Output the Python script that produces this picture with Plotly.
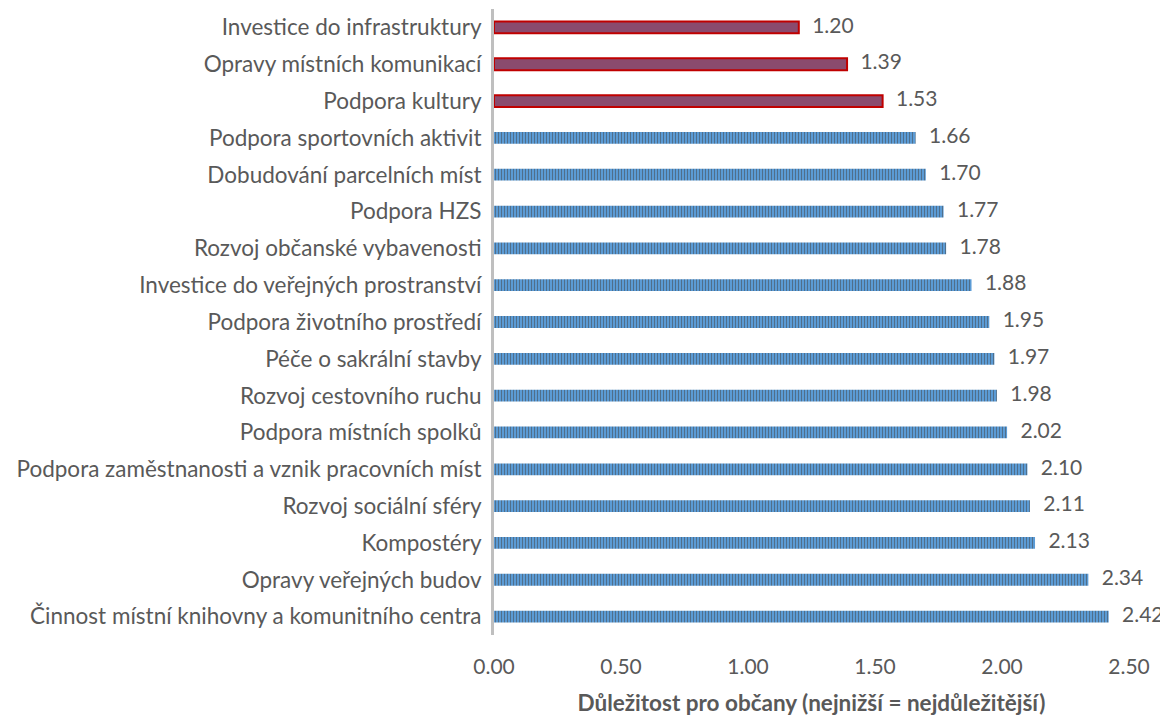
import plotly.graph_objects as go

categories = [
    "Investice do infrastruktury",
    "Opravy místních komunikací",
    "Podpora kultury",
    "Podpora sportovních aktivit",
    "Dobudování parcelních míst",
    "Podpora HZS",
    "Rozvoj občanské vybavenosti",
    "Investice do veřejných prostranství",
    "Podpora životního prostředí",
    "Péče o sakrální stavby",
    "Rozvoj cestovního ruchu",
    "Podpora místních spolků",
    "Podpora zaměstnanosti a vznik pracovních míst",
    "Rozvoj sociální sféry",
    "Kompostéry",
    "Opravy veřejných budov",
    "Činnost místní knihovny a komunitního centra",
]
values = [1.20, 1.39, 1.53, 1.66, 1.70, 1.77, 1.78, 1.88, 1.95, 1.97, 1.98, 2.02, 2.10, 2.11, 2.13, 2.34, 2.42]
top_n = 3

fill_colors = ["#8A4B6E" if i < top_n else "#5B9BD5" for i in range(len(values))]
line_colors = ["#C00000" if i < top_n else "rgba(0,0,0,0)" for i in range(len(values))]
line_widths = [2 if i < top_n else 0 for i in range(len(values))]
pattern_shapes = ["" if i < top_n else "|" for i in range(len(values))]

TXT = "#595959"

fig = go.Figure()
fig.add_trace(go.Bar(
    y=categories,
    x=values,
    orientation="h",
    width=0.32,
    marker=dict(
        color=fill_colors,
        line=dict(color=line_colors, width=line_widths),
        pattern=dict(shape=pattern_shapes, fgcolor="#9DC3E6", bgcolor="#5B9BD5",
                     size=3, solidity=0.35, fillmode="overlay"),
    ),
    hoverinfo="skip",
))
fig.add_trace(go.Scatter(
    y=categories,
    x=values,
    mode="text",
    text=["  \u2009" + f"{v:.2f}" for v in values],
    textposition="middle right",
    textfont=dict(size=21, color=TXT, family="Lato"),
    cliponaxis=False,
    hoverinfo="skip",
))

fig.update_layout(
    width=1160, height=708,
    margin=dict(l=486, r=39, t=1, b=81),
    paper_bgcolor="white", plot_bgcolor="white",
    font=dict(family="Lato, Noto Sans, sans-serif", size=21, color=TXT),
    showlegend=False,
    xaxis=dict(
        range=[0, 2.5], dtick=0.5, tickformat=".2f",
        showgrid=False, zeroline=False, showline=False, automargin=False,
        ticks="", tickfont=dict(size=21, color=TXT),
        title=dict(text="<b>Důležitost pro občany (nejnižší = nejdůležitější)</b>",
                   font=dict(size=22.5, color=TXT), standoff=34),
        ticklabelstandoff=17,
    ),
    yaxis=dict(
        range=[len(categories) - 0.5, -0.5], autorange=False, automargin=False,
        showgrid=False, zeroline=False,
        showline=True, linecolor="#BFBFBF", linewidth=3,
        ticks="", tickfont=dict(size=22.5, color=TXT),
        ticklabelstandoff=5,
    ),
)

fig.write_html("out.html")
